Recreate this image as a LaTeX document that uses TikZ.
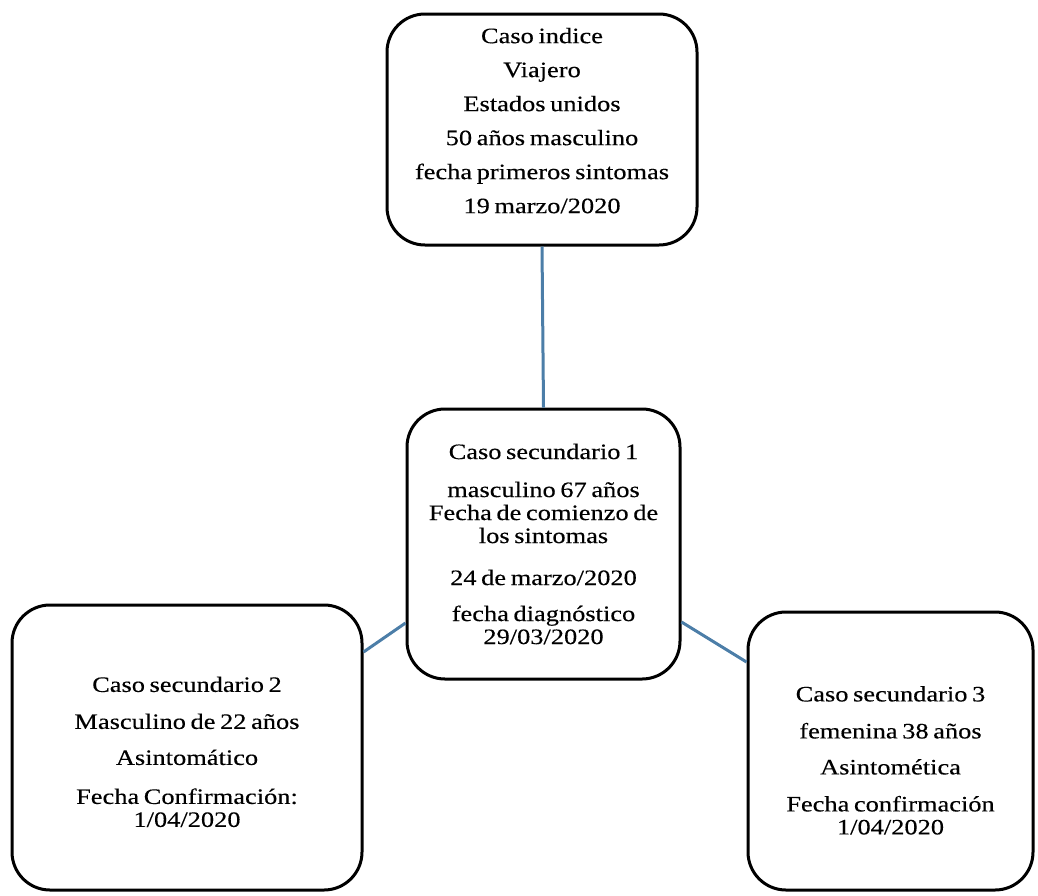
\documentclass[tikz,border=0pt]{standalone}
\usepackage{fontspec}
\setmainfont{Liberation Serif}[FakeStretch=1.2, WordSpace=0.7, FakeBold=0.3]
\usepackage{tikz}
\definecolor{linkblue}{RGB}{76,126,168}
\tikzset{
    casebox/.style={draw=black, line width=3pt, rounded corners=38pt, fill=white,
        align=center, inner sep=0pt, font=\fontsize{22}{23}\selectfont},
    caselink/.style={draw=linkblue, line width=3pt}
}

\begin{document}
\begin{tikzpicture}[x=1pt, y=-1pt]
                \useasboundingbox (0, 0) rectangle (1038, 895);
                \node [casebox, minimum width=310pt, minimum height=231pt] (indice) at (542, 129.5)
                    {Caso indice\\[11pt] Viajero\\[11pt] Estados unidos\\[11pt]
                     50 años masculino\\[11pt] fecha primeros sintomas\\[11pt] 19 marzo/2020\\[-5pt]\mbox{}};
                \node [casebox, minimum width=273pt, minimum height=270pt] (sec1) at (543.5, 544)
                    {Caso secundario 1\\[15pt] masculino 67 años\\ Fecha de comienzo de\\
                     los sintomas\\[19pt] 24 de marzo/2020\\[13pt] fecha diagnóstico\\ 29/03/2020};
                \node [casebox, minimum width=350pt, minimum height=285pt] (sec2) at (187, 747.5)
                    {\mbox{}\\[1pt] Caso secundario 2\\[14pt] Masculino de 22 años\\[13pt] Asintomático\\[16pt]
                     Fecha Confirmación:\\ 1/04/2020};
                \node [casebox, minimum width=285pt, minimum height=278pt] (sec3) at (890.5, 751)
                    {\mbox{}\\[11pt] Caso secundario 3\\[14pt] femenina 38 años\\[13pt] Asintomética\\[14pt]
                     Fecha confirmación\\ 1/04/2020};
                \draw [caselink] (indice.south) -- (sec1.north);
                \draw [caselink] ([yshift=-79pt]sec1.west) -- ([yshift=95.5pt]sec2.east);
                \draw [caselink] ([yshift=-78pt]sec1.east) -- ([yshift=89pt]sec3.west);
            \end{tikzpicture}
\end{document}
